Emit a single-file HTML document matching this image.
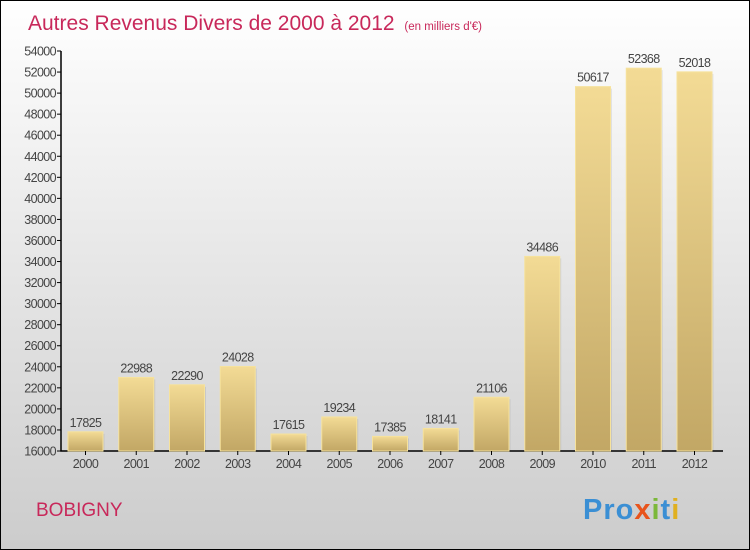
<!DOCTYPE html>
<html><head><meta charset="utf-8"><style>
body{margin:0}
#wrap{position:relative;width:748px;height:548px;border:1px solid #000;background:linear-gradient(#fff,#ccc);overflow:hidden;font-family:"Liberation Sans",sans-serif}
</style></head><body>
<div id="wrap">
<svg width="748" height="548" id="svg">
<defs>
<linearGradient id="bg" x1="0" y1="0" x2="0" y2="1"><stop offset="0" stop-color="#f3db95"/><stop offset="1" stop-color="#c2a765"/></linearGradient>
</defs>
<text x="27" y="29" font-size="21" fill="#c8285a">Autres Revenus Divers de 2000 à 2012 <tspan font-size="11.5" dx="4">(en milliers d'€)</tspan></text>
<text x="35" y="515" font-size="19" fill="#c8285a">BOBIGNY</text>
<text x="582" y="518" font-size="29" font-weight="bold" letter-spacing="1"><tspan fill="#3b8fd4">Pro</tspan><tspan fill="#e8541c">x</tspan><tspan fill="#7cb83a">i</tspan><tspan fill="#3b8fd4">t</tspan><tspan fill="#e0b020">i</tspan></text>
<g id="g"></g>
</svg>
</div>
<script>
const years=["2000","2001","2002","2003","2004","2005","2006","2007","2008","2009","2010","2011","2012"];
const values=[17825,22988,22290,24028,17615,19234,17385,18141,21106,34486,50617,52368,52018];
const ticks=[16000,18000,20000,22000,24000,26000,28000,30000,32000,34000,36000,38000,40000,42000,44000,46000,48000,50000,52000,54000];
const NS="http://www.w3.org/2000/svg",g=document.getElementById('g');
const y=v=>450-(v-16000)*400/38000, x=i=>84.5+i*50.75;
function mk(t,a,txt){const e=document.createElementNS(NS,t);for(const k in a)e.setAttribute(k,a[k]);if(txt!=null)e.textContent=txt;g.appendChild(e);return e;}
const ax=mk('path',{d:'M60,50V450H722',stroke:'#000',fill:'none','stroke-width':1.5});


ticks.forEach(t=>{
 const l=mk('line',{x1:56,x2:60,y1:y(t),y2:y(t),stroke:'#000'});
 
 
 const tx=mk('text',{x:55,y:y(t)+4.5,'text-anchor':'end','font-size':12.5,fill:'#444','letter-spacing':'-0.6'},t);
 
 
});
values.forEach((v,i)=>{
 const cx=x(i);
 const s=mk('rect',{x:cx-16,y:y(v)+2,width:35,height:450-y(v)-2,fill:'#000',opacity:0.08});
 
 
 const r=mk('rect',{x:cx-17.5,y:y(v),width:35,height:450-y(v),fill:'url(#bg)',stroke:'#f6e29c','stroke-width':1});
 
 
 const vl=mk('text',{x:cx,y:y(v)-5,'text-anchor':'middle','font-size':12.5,fill:'#444','letter-spacing':'-0.6'},v);
 
 
 const tk=mk('line',{x1:cx,x2:cx,y1:450,y2:454,stroke:'#000'});
 
 
 const xl=mk('text',{x:cx,y:467,'text-anchor':'middle','font-size':12.5,fill:'#444','letter-spacing':'-0.6'},years[i]);
 
 
});
</script>
</body></html>
